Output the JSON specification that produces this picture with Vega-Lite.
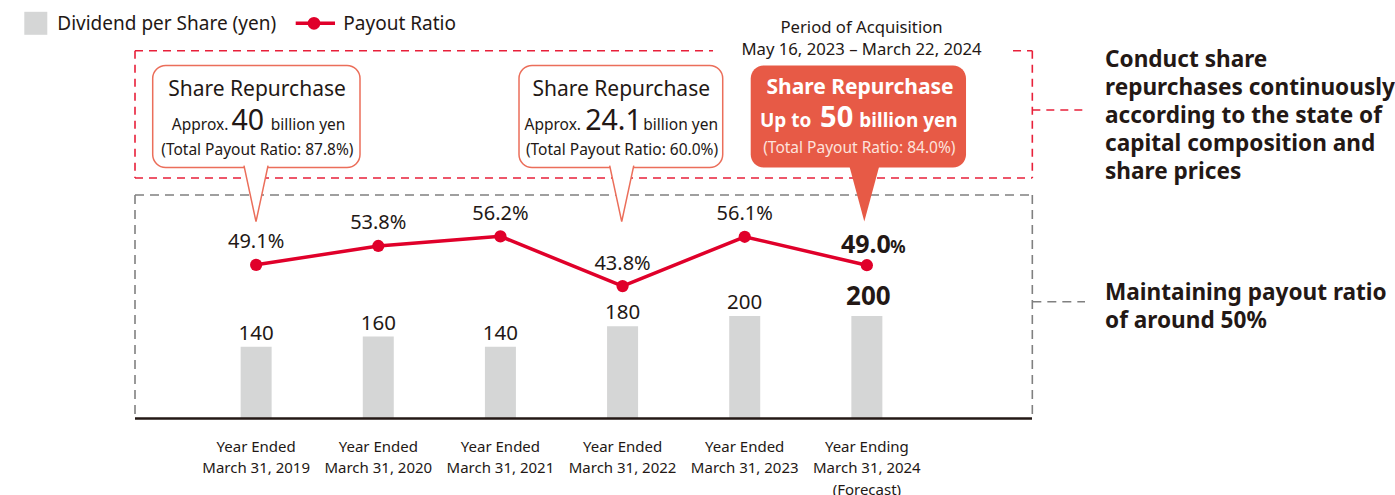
{
  "$schema": "https://vega.github.io/schema/vega-lite/v6.json",
  "width": 855,
  "height": 410,
  "autosize": {"type": "none"},
  "padding": {"left": 134, "top": 8.5, "right": 406, "bottom": 76.5},
  "background": "#ffffff",
  "config": {"view": {"stroke": null}, "scale": {"continuousPadding": 0}, "font": "Noto Sans", "text": {"font": "Noto Sans", "color": "#231815", "baseline": "alphabetic"}},
  "datasets": {
    "metrics": [
      {"idx": 1, "period": "Year Ended\nMarch 31, 2019", "dividend": 140, "ratio": 49.1, "ratioLabel": "49.1%"},
      {"idx": 2, "period": "Year Ended\nMarch 31, 2020", "dividend": 160, "ratio": 53.8, "ratioLabel": "53.8%"},
      {"idx": 3, "period": "Year Ended\nMarch 31, 2021", "dividend": 140, "ratio": 56.2, "ratioLabel": "56.2%"},
      {"idx": 4, "period": "Year Ended\nMarch 31, 2022", "dividend": 180, "ratio": 43.8, "ratioLabel": "43.8%"},
      {"idx": 5, "period": "Year Ended\nMarch 31, 2023", "dividend": 200, "ratio": 56.1, "ratioLabel": "56.1%"},
      {"idx": 6, "period": "Year Ending\nMarch 31, 2024\n(Forecast)", "dividend": 200, "ratio": 49.0, "ratioLabel": "49.0%"}
    ],
    "redDash": [
      {"x1": 0.0082, "x2": 4.7405, "y1": 717.7, "y2": 717.7},
      {"x1": 7.1967, "x2": 7.3547, "y1": 717.7, "y2": 717.7},
      {"x1": 7.3547, "x2": 7.3547, "y1": 717.7, "y2": 469.3},
      {"x1": 0.0082, "x2": 7.3547, "y1": 469.3, "y2": 469.3},
      {"x1": 0.0082, "x2": 0.0082, "y1": 717.7, "y2": 469.3},
      {"x1": 7.3547, "x2": 7.786, "y1": 602.0, "y2": 602.0}
    ],
    "greyDash": [
      {"x1": 0.0082, "x2": 7.3547, "y1": 436.1, "y2": 436.1},
      {"x1": 0.0082, "x2": 0.0082, "y1": 436.1, "y2": 0},
      {"x1": 7.3547, "x2": 7.3547, "y1": 436.1, "y2": 0},
      {"x1": 7.3547, "x2": 7.786, "y1": 227.9, "y2": 227.9}
    ]
  },
  "layer": [
    {
      "layer": [
        {
          "data": {"name": "redDash"},
          "mark": {"type": "rule", "stroke": "#e8203a", "strokeWidth": 1.6, "strokeDash": [8, 6]},
          "encoding": {
            "x": {"field": "x1", "type": "quantitative", "scale": {"domain": [0, 7], "nice": false, "zero": false, "padding": 0}, "axis": null},
            "x2": {"field": "x2"},
            "y": {"field": "y1", "type": "quantitative", "scale": {"domain": [0, 800], "nice": false, "zero": false, "padding": 0}, "axis": null},
            "y2": {"field": "y2"}
          }
        },
        {
          "data": {"name": "greyDash"},
          "mark": {"type": "rule", "stroke": "#808080", "strokeWidth": 1.6, "strokeDash": [9, 6]},
          "encoding": {
            "x": {"field": "x1", "type": "quantitative", "scale": {"domain": [0, 7], "nice": false, "zero": false, "padding": 0}, "axis": null},
            "x2": {"field": "x2"},
            "y": {"field": "y1", "type": "quantitative", "scale": {"domain": [0, 800], "nice": false, "zero": false, "padding": 0}, "axis": null},
            "y2": {"field": "y2"}
          }
        },
        {
          "data": {"name": "metrics"},
          "mark": {"type": "bar", "size": 31, "color": "#d5d6d6"},
          "encoding": {
            "x": {"field": "idx", "type": "quantitative", "scale": {"domain": [0, 7], "nice": false, "zero": false, "padding": 0}, "axis": null},
            "y": {"field": "dividend", "type": "quantitative", "scale": {"domain": [0, 800], "nice": false, "zero": false, "padding": 0}, "axis": null}
          }
        },
        {
          "data": {"values": [{"x1": 0.0082, "x2": 7.352, "y": 0}]},
          "mark": {"type": "rule", "stroke": "#231815", "strokeWidth": 2.5},
          "encoding": {
            "x": {"field": "x1", "type": "quantitative", "scale": {"domain": [0, 7], "nice": false, "zero": false, "padding": 0}, "axis": null},
            "x2": {"field": "x2"},
            "y": {"field": "y", "type": "quantitative", "scale": {"domain": [0, 800], "nice": false, "zero": false, "padding": 0}, "axis": null}
          }
        },
        {
          "data": {"name": "metrics"},
          "transform": [{"filter": "datum.idx < 6"}],
          "mark": {"type": "text", "fontSize": 20.5, "dy": -7, "align": "center", "baseline": "alphabetic", "color": "#231815"},
          "encoding": {
            "x": {"field": "idx", "type": "quantitative", "scale": {"domain": [0, 7], "nice": false, "zero": false, "padding": 0}, "axis": null},
            "y": {"field": "dividend", "type": "quantitative", "scale": {"domain": [0, 800], "nice": false, "zero": false, "padding": 0}, "axis": null},
            "text": {"field": "dividend", "type": "quantitative"}
          }
        },
        {
          "data": {"name": "metrics"},
          "transform": [{"filter": "datum.idx == 6"}],
          "mark": {"type": "text", "fontSize": 26, "fontWeight": "bold", "dy": -11, "dx": 1.5, "align": "center", "baseline": "alphabetic", "color": "#231815"},
          "encoding": {
            "x": {"field": "idx", "type": "quantitative", "scale": {"domain": [0, 7], "nice": false, "zero": false, "padding": 0}, "axis": null},
            "y": {"field": "dividend", "type": "quantitative", "scale": {"domain": [0, 800], "nice": false, "zero": false, "padding": 0}, "axis": null},
            "text": {"field": "dividend", "type": "quantitative"}
          }
        },
        {
          "data": {"name": "metrics"},
          "mark": {"type": "text", "fontSize": 15, "lineBreak": "\n", "lineHeight": 21.6, "align": "center", "baseline": "alphabetic", "color": "#231815"},
          "encoding": {
            "x": {"field": "idx", "type": "quantitative", "scale": {"domain": [0, 7], "nice": false, "zero": false, "padding": 0}, "axis": null},
            "y": {"datum": -64.8, "type": "quantitative", "scale": {"domain": [0, 800], "nice": false, "zero": false, "padding": 0}, "axis": null},
            "text": {"field": "period", "type": "nominal"}
          }
        },
        {
          "data": {"values": [{"x": -0.804, "y": 771.1}]},
          "mark": {"type": "point", "shape": "square", "size": 529, "filled": true, "color": "#d5d6d6", "opacity": 1},
          "encoding": {
            "x": {"field": "x", "type": "quantitative", "scale": {"domain": [0, 7], "nice": false, "zero": false, "padding": 0}, "axis": null},
            "y": {"field": "y", "type": "quantitative", "scale": {"domain": [0, 800], "nice": false, "zero": false, "padding": 0}, "axis": null}
          }
        },
        {
          "data": {"values": [{"x1": 1.3239, "x2": 1.6457, "y": 771.1}]},
          "mark": {"type": "rule", "stroke": "#e0002a", "strokeWidth": 3.5},
          "encoding": {
            "x": {"field": "x1", "type": "quantitative", "scale": {"domain": [0, 7], "nice": false, "zero": false, "padding": 0}, "axis": null},
            "x2": {"field": "x2"},
            "y": {"field": "y", "type": "quantitative", "scale": {"domain": [0, 800], "nice": false, "zero": false, "padding": 0}, "axis": null}
          }
        },
        {
          "data": {"values": [{"x": 1.4737, "y": 771.1}]},
          "mark": {"type": "point", "shape": "circle", "size": 160, "filled": true, "color": "#e0002a", "opacity": 1},
          "encoding": {
            "x": {"field": "x", "type": "quantitative", "scale": {"domain": [0, 7], "nice": false, "zero": false, "padding": 0}, "axis": null},
            "y": {"field": "y", "type": "quantitative", "scale": {"domain": [0, 800], "nice": false, "zero": false, "padding": 0}, "axis": null}
          }
        },
        {
          "data": {"values": [{"x": -0.628, "y": 758.0, "t": "Dividend per Share (yen)"}, {"x": 1.7136, "y": 758.0, "t": "Payout Ratio"}]},
          "mark": {"type": "text", "fontSize": 19, "align": "left", "baseline": "alphabetic", "color": "#231815"},
          "encoding": {
            "x": {"field": "x", "type": "quantitative", "scale": {"domain": [0, 7], "nice": false, "zero": false, "padding": 0}, "axis": null},
            "y": {"field": "y", "type": "quantitative", "scale": {"domain": [0, 800], "nice": false, "zero": false, "padding": 0}, "axis": null},
            "text": {"field": "t", "type": "nominal"}
          }
        },
        {
          "data": {"values": [{"x": 5.9563, "y": 752.8, "t": "Period of Acquisition"}, {"x": 5.9563, "y": 709.3, "t": "May 16, 2023 – March 22, 2024"}]},
          "mark": {"type": "text", "fontSize": 16.7, "align": "center", "baseline": "alphabetic", "color": "#231815"},
          "encoding": {
            "x": {"field": "x", "type": "quantitative", "scale": {"domain": [0, 7], "nice": false, "zero": false, "padding": 0}, "axis": null},
            "y": {"field": "y", "type": "quantitative", "scale": {"domain": [0, 800], "nice": false, "zero": false, "padding": 0}, "axis": null},
            "text": {"field": "t", "type": "nominal"}
          }
        },
        {
          "data": {"values": [{"x1": 0.1531, "x2": 1.8503, "y1": 689.0, "y2": 489.6}, {"x1": 3.1521, "x2": 4.8199, "y1": 689.0, "y2": 489.6}]},
          "mark": {"type": "rect", "fill": "#ffffff", "stroke": "#eb6e5a", "strokeWidth": 1.5, "cornerRadius": 13},
          "encoding": {
            "x": {"field": "x1", "type": "quantitative", "scale": {"domain": [0, 7], "nice": false, "zero": false, "padding": 0}, "axis": null},
            "x2": {"field": "x2"},
            "y": {"field": "y1", "type": "quantitative", "scale": {"domain": [0, 800], "nice": false, "zero": false, "padding": 0}, "axis": null},
            "y2": {"field": "y2"}
          }
        },
        {
          "data": {"values": [{"x": 0.9989, "y": 438.8}, {"x": 3.993, "y": 438.8}]},
          "mark": {"type": "point", "shape": "M-0.43,-1L0,1L0.43,-1", "size": 3136, "filled": true, "fill": "#ffffff", "stroke": "#eb6e5a", "strokeWidth": 1.5, "opacity": 1},
          "encoding": {
            "x": {"field": "x", "type": "quantitative", "scale": {"domain": [0, 7], "nice": false, "zero": false, "padding": 0}, "axis": null},
            "y": {"field": "y", "type": "quantitative", "scale": {"domain": [0, 800], "nice": false, "zero": false, "padding": 0}, "axis": null}
          }
        },
        {
          "data": {"values": [{"x1": 5.0491, "x2": 6.8119, "y1": 689.0, "y2": 489.6}]},
          "mark": {"type": "rect", "fill": "#e75a46", "cornerRadius": 13},
          "encoding": {
            "x": {"field": "x1", "type": "quantitative", "scale": {"domain": [0, 7], "nice": false, "zero": false, "padding": 0}, "axis": null},
            "x2": {"field": "x2"},
            "y": {"field": "y1", "type": "quantitative", "scale": {"domain": [0, 800], "nice": false, "zero": false, "padding": 0}, "axis": null},
            "y2": {"field": "y2"}
          }
        },
        {
          "data": {"values": [{"x": 5.9792, "y": 438.8}]},
          "mark": {"type": "point", "shape": "M-0.54,-1L0,1L0.54,-1Z", "size": 3136, "filled": true, "fill": "#e75a46", "strokeWidth": 0, "opacity": 1},
          "encoding": {
            "x": {"field": "x", "type": "quantitative", "scale": {"domain": [0, 7], "nice": false, "zero": false, "padding": 0}, "axis": null},
            "y": {"field": "y", "type": "quantitative", "scale": {"domain": [0, 800], "nice": false, "zero": false, "padding": 0}, "axis": null}
          }
        },
        {
          "data": {"values": [{"x": 1.007, "y": 630.2, "t": "Share Repurchase"}, {"x": 3.9889, "y": 630.2, "t": "Share Repurchase"}]},
          "mark": {"type": "text", "fontSize": 21, "align": "center", "baseline": "alphabetic", "color": "#231815"},
          "encoding": {
            "x": {"field": "x", "type": "quantitative", "scale": {"domain": [0, 7], "nice": false, "zero": false, "padding": 0}, "axis": null},
            "y": {"field": "y", "type": "quantitative", "scale": {"domain": [0, 800], "nice": false, "zero": false, "padding": 0}, "axis": null},
            "text": {"field": "t", "type": "nominal"}
          }
        },
        {
          "data": {"values": [{"x": 0.7721, "y": 562.9, "t": "Approx."}, {"x": 3.6597, "y": 562.9, "t": "Approx."}]},
          "mark": {"type": "text", "fontSize": 15.5, "align": "right", "baseline": "alphabetic", "color": "#231815"},
          "encoding": {
            "x": {"field": "x", "type": "quantitative", "scale": {"domain": [0, 7], "nice": false, "zero": false, "padding": 0}, "axis": null},
            "y": {"field": "y", "type": "quantitative", "scale": {"domain": [0, 800], "nice": false, "zero": false, "padding": 0}, "axis": null},
            "text": {"field": "t", "type": "nominal"}
          }
        },
        {
          "data": {"values": [{"x": 0.7985, "y": 562.9, "t": "40"}, {"x": 3.6945, "y": 562.9, "t": "24.1"}]},
          "mark": {"type": "text", "fontSize": 28.5, "align": "left", "baseline": "alphabetic", "color": "#231815"},
          "encoding": {
            "x": {"field": "x", "type": "quantitative", "scale": {"domain": [0, 7], "nice": false, "zero": false, "padding": 0}, "axis": null},
            "y": {"field": "y", "type": "quantitative", "scale": {"domain": [0, 800], "nice": false, "zero": false, "padding": 0}, "axis": null},
            "text": {"field": "t", "type": "nominal"}
          }
        },
        {
          "data": {"values": [{"x": 1.1192, "y": 562.9, "t": "billion yen"}, {"x": 4.1698, "y": 562.9, "t": "billion yen"}]},
          "mark": {"type": "text", "fontSize": 15.5, "align": "left", "baseline": "alphabetic", "color": "#231815"},
          "encoding": {
            "x": {"field": "x", "type": "quantitative", "scale": {"domain": [0, 7], "nice": false, "zero": false, "padding": 0}, "axis": null},
            "y": {"field": "y", "type": "quantitative", "scale": {"domain": [0, 800], "nice": false, "zero": false, "padding": 0}, "axis": null},
            "text": {"field": "t", "type": "nominal"}
          }
        },
        {
          "data": {"values": [{"x": 1.0099, "y": 514.7, "t": "(Total Payout Ratio: 87.8%)"}, {"x": 3.9954, "y": 514.7, "t": "(Total Payout Ratio: 60.0%)"}]},
          "mark": {"type": "text", "fontSize": 15.5, "align": "center", "baseline": "alphabetic", "color": "#231815"},
          "encoding": {
            "x": {"field": "x", "type": "quantitative", "scale": {"domain": [0, 7], "nice": false, "zero": false, "padding": 0}, "axis": null},
            "y": {"field": "y", "type": "quantitative", "scale": {"domain": [0, 800], "nice": false, "zero": false, "padding": 0}, "axis": null},
            "text": {"field": "t", "type": "nominal"}
          }
        },
        {
          "data": {"values": [{"x": 5.944, "y": 632.6, "t": "Share Repurchase"}]},
          "mark": {"type": "text", "fontSize": 21, "fontWeight": "bold", "align": "center", "baseline": "alphabetic", "color": "#ffffff"},
          "encoding": {
            "x": {"field": "x", "type": "quantitative", "scale": {"domain": [0, 7], "nice": false, "zero": false, "padding": 0}, "axis": null},
            "y": {"field": "y", "type": "quantitative", "scale": {"domain": [0, 800], "nice": false, "zero": false, "padding": 0}, "axis": null},
            "text": {"field": "t", "type": "nominal"}
          }
        },
        {
          "data": {"values": [{"x": 5.5461, "y": 568.2, "t": "Up to"}]},
          "mark": {"type": "text", "fontSize": 19, "fontWeight": "bold", "align": "right", "baseline": "alphabetic", "color": "#ffffff"},
          "encoding": {
            "x": {"field": "x", "type": "quantitative", "scale": {"domain": [0, 7], "nice": false, "zero": false, "padding": 0}, "axis": null},
            "y": {"field": "y", "type": "quantitative", "scale": {"domain": [0, 800], "nice": false, "zero": false, "padding": 0}, "axis": null},
            "text": {"field": "t", "type": "nominal"}
          }
        },
        {
          "data": {"values": [{"x": 5.617, "y": 568.2, "t": "50"}]},
          "mark": {"type": "text", "fontSize": 29, "fontWeight": "bold", "align": "left", "baseline": "alphabetic", "color": "#ffffff"},
          "encoding": {
            "x": {"field": "x", "type": "quantitative", "scale": {"domain": [0, 7], "nice": false, "zero": false, "padding": 0}, "axis": null},
            "y": {"field": "y", "type": "quantitative", "scale": {"domain": [0, 800], "nice": false, "zero": false, "padding": 0}, "axis": null},
            "text": {"field": "t", "type": "nominal"}
          }
        },
        {
          "data": {"values": [{"x": 5.9383, "y": 568.2, "t": "billion yen"}]},
          "mark": {"type": "text", "fontSize": 19, "fontWeight": "bold", "align": "left", "baseline": "alphabetic", "color": "#ffffff"},
          "encoding": {
            "x": {"field": "x", "type": "quantitative", "scale": {"domain": [0, 7], "nice": false, "zero": false, "padding": 0}, "axis": null},
            "y": {"field": "y", "type": "quantitative", "scale": {"domain": [0, 800], "nice": false, "zero": false, "padding": 0}, "axis": null},
            "text": {"field": "t", "type": "nominal"}
          }
        },
        {
          "data": {"values": [{"x": 5.9383, "y": 517.5, "t": "(Total Payout Ratio: 84.0%)"}]},
          "mark": {"type": "text", "fontSize": 15.5, "align": "center", "baseline": "alphabetic", "color": "#fde2dc"},
          "encoding": {
            "x": {"field": "x", "type": "quantitative", "scale": {"domain": [0, 7], "nice": false, "zero": false, "padding": 0}, "axis": null},
            "y": {"field": "y", "type": "quantitative", "scale": {"domain": [0, 800], "nice": false, "zero": false, "padding": 0}, "axis": null},
            "text": {"field": "t", "type": "nominal"}
          }
        },
        {
          "data": {"values": [
            {"x": 7.9499, "y": 686.4, "t": "Conduct share\nrepurchases continuously\naccording to the state of\ncapital composition and\nshare prices"},
            {"x": 7.9499, "y": 231.2, "t": "Maintaining payout ratio\nof around 50%"}
          ]},
          "mark": {"type": "text", "fontSize": 22.6, "fontWeight": "bold", "align": "left", "baseline": "alphabetic", "lineBreak": "\n", "lineHeight": 28, "color": "#231815"},
          "encoding": {
            "x": {"field": "x", "type": "quantitative", "scale": {"domain": [0, 7], "nice": false, "zero": false, "padding": 0}, "axis": null},
            "y": {"field": "y", "type": "quantitative", "scale": {"domain": [0, 800], "nice": false, "zero": false, "padding": 0}, "axis": null},
            "text": {"field": "t", "type": "nominal"}
          }
        }
      ]
    },
    {
      "data": {"name": "metrics"},
      "encoding": {
        "x": {"field": "idx", "type": "quantitative", "scale": {"domain": [0, 7], "nice": false, "zero": false, "padding": 0}, "axis": null},
        "y": {"field": "ratio", "type": "quantitative", "scale": {"domain": [10.78, 113.02], "nice": false, "zero": false, "padding": 0}, "axis": null}
      },
      "layer": [
        {"mark": {"type": "line", "color": "#e0002a", "strokeWidth": 3.5}},
        {"mark": {"type": "point", "shape": "circle", "filled": true, "color": "#e0002a", "size": 150, "opacity": 1}},
        {
          "transform": [{"filter": "datum.idx < 6"}],
          "mark": {"type": "text", "fontSize": 20, "dy": -16.5, "align": "center", "baseline": "alphabetic", "color": "#231815"},
          "encoding": {"text": {"field": "ratioLabel", "type": "nominal"}}
        },
        {
          "transform": [{"filter": "datum.idx == 6"}],
          "mark": {"type": "text", "fontSize": 25, "fontWeight": "bold", "dx": 24, "dy": -12.5, "align": "right", "baseline": "alphabetic", "color": "#231815"},
          "encoding": {"text": {"field": "ratio", "type": "quantitative", "format": ".1f"}}
        },
        {
          "transform": [{"filter": "datum.idx == 6"}],
          "mark": {"type": "text", "fontSize": 17, "fontWeight": "bold", "dx": 23.5, "dy": -12.5, "align": "left", "baseline": "alphabetic", "color": "#231815"},
          "encoding": {"text": {"value": "%"}}
        }
      ]
    }
  ],
  "resolve": {"scale": {"y": "independent"}}
}
